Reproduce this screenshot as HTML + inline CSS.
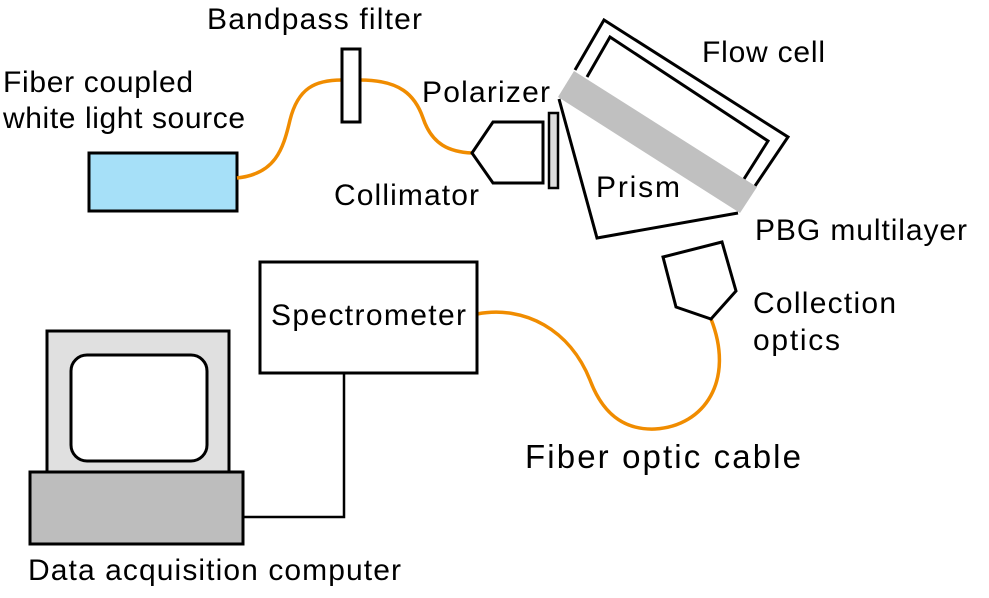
<!DOCTYPE html>
<html><head><meta charset="utf-8"><style>
html,body{margin:0;padding:0;background:#fff;}
svg{display:block;}
text{font-family:"Liberation Sans",Arial,sans-serif;font-size:30px;fill:#000;}
</style></head><body>
<svg width="989" height="598" viewBox="0 0 989 598" xmlns="http://www.w3.org/2000/svg">
<rect x="89" y="153" width="148" height="58" fill="#a6e0f8" stroke="#000" stroke-width="3"/>
<g fill="none" stroke="#f08c00" stroke-width="3.5">
<path d="M237,178 C275,174 283,150 290,120 C298,88 315,80 342,80"/>
<path d="M360,80 C400,80 415,95 423,118 C432,145 450,152 472,153"/>
<path d="M477,314 C525,305 570,330 590,380 C605,420 630,430 655,429 C705,426 735,380 711,319"/>
</g>
<rect x="342" y="49" width="18" height="73" fill="#fff" stroke="#000" stroke-width="3"/>
<polygon points="472,153 493,122 543,122 543,183 493,183" fill="#fff" stroke="#000" stroke-width="3"/>
<rect x="549" y="113" width="9" height="75" fill="#dcdcdc" stroke="#000" stroke-width="2.5"/>
<polyline points="575,70 604,20 788,137 755,186" fill="none" stroke="#000" stroke-width="3"/>
<polyline points="587,77 610,37 768,141 744,179" fill="none" stroke="#000" stroke-width="3"/>
<polyline points="559,99 597,238 738,213" fill="none" stroke="#000" stroke-width="3"/>
<polygon points="574,71 757,187 740,213 558,97" fill="#c0c0c0"/>
<polygon points="663,257 722,242 736,291 711,319 676,307" fill="#fff" stroke="#000" stroke-width="3"/>
<rect x="260" y="262" width="217" height="111" fill="#fff" stroke="#000" stroke-width="3"/>
<polyline points="344,373 344,517 243,517" fill="none" stroke="#000" stroke-width="2.5"/>
<rect x="47" y="331" width="182" height="141" fill="#e0e0e0" stroke="#000" stroke-width="3"/>
<rect x="71" y="355" width="136" height="106" rx="16" fill="#fff" stroke="#000" stroke-width="3"/>
<rect x="30" y="472" width="213" height="72" fill="#bdbdbd" stroke="#000" stroke-width="3"/>
<text x="207" y="29" textLength="215">Bandpass filter</text>
<text x="3" y="92" textLength="190">Fiber coupled</text>
<text x="3" y="128" textLength="242">white light source</text>
<text x="422" y="102" textLength="128">Polarizer</text>
<text x="334" y="205" textLength="145">Collimator</text>
<text x="702" y="62" textLength="123">Flow cell</text>
<text x="596" y="197" textLength="84">Prism</text>
<text x="755" y="240" textLength="212">PBG multilayer</text>
<text x="753" y="313" textLength="143">Collection</text>
<text x="753" y="350" textLength="87">optics</text>
<text x="271" y="325" textLength="195">Spectrometer</text>
<text x="525" y="468" textLength="276" style="font-size:33px">Fiber optic cable</text>
<text x="28" y="580" textLength="373">Data acquisition computer</text>
</svg>
</body></html>
